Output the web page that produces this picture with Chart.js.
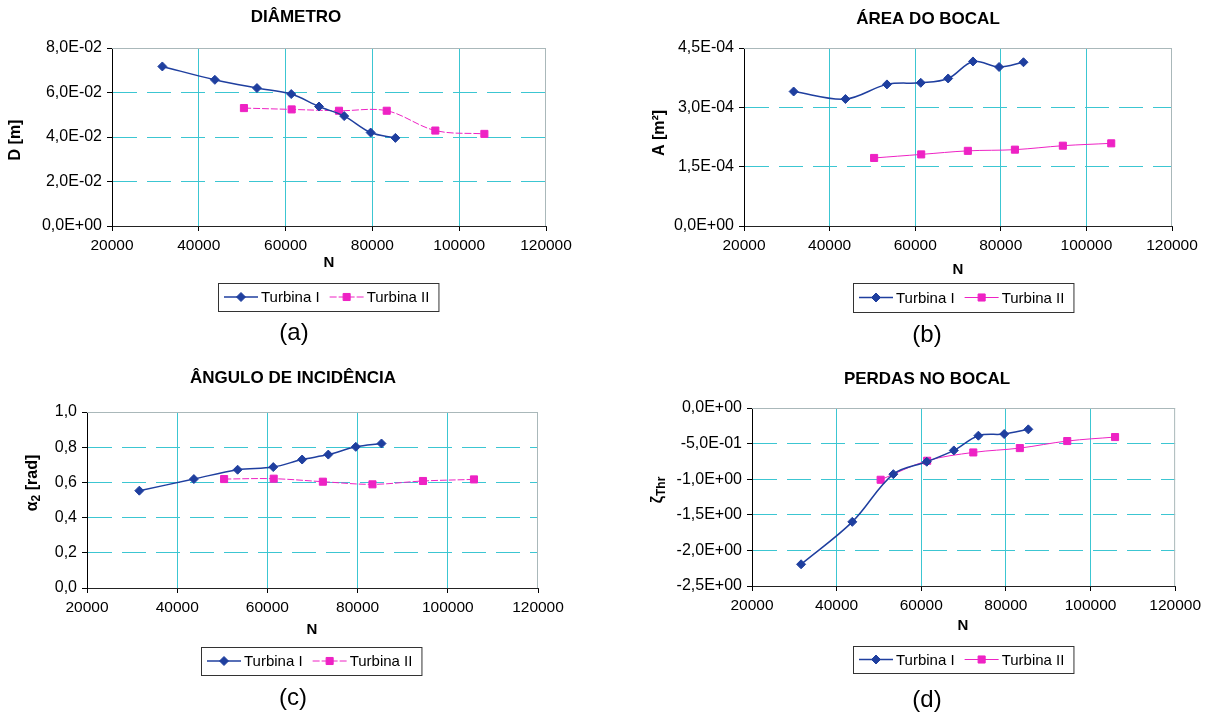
<!DOCTYPE html>
<html>
<head>
<meta charset="utf-8">
<script src="https://cdn.jsdelivr.net/npm/chart.js@4.4.1/dist/chart.umd.min.js"></script>
<style>
  html, body { margin: 0; padding: 0; background: #fff; }
  #page { position: relative; width: 1206px; height: 720px; overflow: hidden; background: #fff; }
  #page canvas { position: absolute; }
</style>
</head>
<body>
<div id="page">
  <canvas id="chart-a" width="603" height="360" style="left:0;top:0"></canvas>
  <canvas id="chart-b" width="603" height="360" style="left:603px;top:0"></canvas>
  <canvas id="chart-c" width="603" height="360" style="left:0;top:360px"></canvas>
  <canvas id="chart-d" width="603" height="360" style="left:603px;top:360px"></canvas>
</div>
<script>
// rotation speed N of each operating point
const nTurbI = [31600, 43700, 53400, 61300, 67700, 73500, 79600, 85300];
const nTurbII = [50400, 61400, 72300, 83300, 94500, 105800];

// nozzle diameter D [m]
const diamI = [0.0717, 0.0657, 0.0620, 0.0593, 0.0537, 0.0494, 0.0420, 0.0396];
const diamII = [0.0530, 0.0524, 0.0518, 0.0518, 0.0429, 0.0414];

// nozzle area A [m2]
const areaI = [3.40e-4, 3.21e-4, 3.58e-4, 3.62e-4, 3.73e-4, 4.16e-4, 4.02e-4, 4.14e-4];
const areaII = [1.72e-4, 1.81e-4, 1.90e-4, 1.93e-4, 2.03e-4, 2.09e-4];

// incidence angle alpha2 [rad]
const angI = [0.553, 0.619, 0.672, 0.687, 0.730, 0.758, 0.802, 0.821];
const angII = [0.619, 0.621, 0.604, 0.589, 0.608, 0.617];

// nozzle losses zeta_Thr
const lossI = [-2.195, -1.599, -0.929, -0.755, -0.596, -0.389, -0.366, -0.300];
const lossII = [-1.008, -0.741, -0.624, -0.563, -0.464, -0.408];

// axis ticks
const nTicks = [20000, 40000, 60000, 80000, 100000, 120000];
const diamTicks = [0, 0.02, 0.04, 0.06, 0.08];
const areaTicks = [0, 1.5e-4, 3.0e-4, 4.5e-4];
const angTicks = [0, 0.2, 0.4, 0.6, 0.8, 1.0];
const lossTicks = [-2.5, -2.0, -1.5, -1.0, -0.5, 0];

const FONT = '"Liberation Sans", Arial, sans-serif';
const BLUE = '#1f3f9f';
const PINK = '#ee22c4';
const CYAN = '#3cc6d2';
const W = 603, H = 360;

// 8,0E-02 style labels
const sciLabel = v => {
  const [m, e] = Number(v).toExponential(1).split('e');
  const exp = parseInt(e, 10);
  return m.replace('.', ',') + 'E' + (exp < 0 ? '-' : '+') + String(Math.abs(exp)).padStart(2, '0');
};
const decLabel = v => Number(v).toFixed(1).replace('.', ',');

// frame, titles, boxed legend and caption
const decor = {
  id: 'decor',
  beforeDatasetsDraw(chart) {
    const ctx = chart.ctx;
    const { left, right, top, bottom } = chart.chartArea;
    ctx.save();
    ctx.strokeStyle = '#aab8ba';
    ctx.lineWidth = 1;
    ctx.beginPath();
    ctx.moveTo(left, top + 0.5);
    ctx.lineTo(right, top + 0.5);
    ctx.moveTo(right - 0.5, top);
    ctx.lineTo(right - 0.5, bottom);
    ctx.stroke();
    ctx.restore();
  },
  afterDraw(chart, args, opts) {
    const ctx = chart.ctx;
    ctx.save();
    ctx.fillStyle = '#000';
    ctx.textAlign = 'center';
    ctx.textBaseline = 'middle';

    ctx.font = `bold 17px ${FONT}`;
    ctx.fillText(opts.title, opts.titleAt[0], opts.titleAt[1]);

    ctx.font = `bold 15px ${FONT}`;
    ctx.fillText('N', opts.nAt[0], opts.nAt[1]);

    ctx.font = `24px ${FONT}`;
    ctx.fillText(opts.caption, opts.captionAt[0], opts.captionAt[1]);

    // rotated y title, parts may be subscripted
    const big = `bold 16px ${FONT}`, small = `bold 12px ${FONT}`;
    let total = 0;
    opts.yTitle.forEach(([t, sub]) => { ctx.font = sub ? small : big; total += ctx.measureText(t).width; });
    ctx.save();
    ctx.translate(opts.yTitleAt[0], opts.yTitleAt[1]);
    ctx.rotate(-Math.PI / 2);
    ctx.textAlign = 'left';
    let tx = -total / 2;
    opts.yTitle.forEach(([t, sub]) => {
      ctx.font = sub ? small : big;
      ctx.fillText(t, tx, sub ? 4 : 0);
      tx += ctx.measureText(t).width;
    });
    ctx.restore();

    // legend box
    const lg = opts.legend;
    const cy = lg.y + lg.h / 2;
    ctx.font = `15px ${FONT}`;
    ctx.textAlign = 'left';
    let x = lg.x + 6;
    const items = chart.data.datasets.map(ds => {
      const item = { ds, x };
      x += 37 + ctx.measureText(ds.label).width + 10;
      return item;
    });
    const boxW = x - 10 + 9 - lg.x;
    ctx.strokeStyle = '#333';
    ctx.lineWidth = 1;
    ctx.strokeRect(lg.x + 0.5, lg.y + 0.5, boxW, lg.h);
    items.forEach(({ ds, x }) => {
      ctx.strokeStyle = ds.borderColor;
      ctx.lineWidth = ds.borderWidth;
      ctx.setLineDash(ds.borderDash || []);
      ctx.beginPath();
      ctx.moveTo(x, cy);
      ctx.lineTo(x + 34, cy);
      ctx.stroke();
      ctx.setLineDash([]);
      ctx.fillStyle = ds.backgroundColor;
      ctx.strokeStyle = ds.borderColor;
      ctx.lineWidth = 1;
      Chart.helpers.drawPoint(ctx, { pointStyle: ds.pointStyle, radius: ds.pointRadius, rotation: 0, borderWidth: 1 }, x + 17, cy);
      ctx.fillStyle = '#000';
      ctx.fillText(ds.label, x + 37, cy + 1);
    });
    ctx.restore();
  }
};

function makeChart(id, ysI, ysII, yTicks, yFmt, deco, dashII) {
  const area = deco.area;
  new Chart(document.getElementById(id), {
    type: 'line',
    data: {
      datasets: [
        {
          label: 'Turbina I',
          data: nTurbI.map((n, i) => ({ x: n, y: ysI[i] })),
          borderColor: BLUE,
          backgroundColor: BLUE,
          borderWidth: 1.5,
          pointStyle: 'rectRot',
          pointRadius: 4.5,
          pointBorderWidth: 1,
          tension: 0.35,
        },
        {
          label: 'Turbina II',
          data: nTurbII.map((n, i) => ({ x: n, y: ysII[i] })),
          borderColor: PINK,
          backgroundColor: PINK,
          borderWidth: 1,
          borderDash: dashII,
          pointStyle: 'rect',
          pointRadius: 5,
          pointBorderWidth: 1,
          tension: 0.35,
        },
      ]
    },
    options: {
      responsive: false,
      animation: false,
      events: [],
      layout: {
        padding: { left: 2, right: W - area.right, top: area.top, bottom: H - area.bottom - 30 }
      },
      plugins: {
        legend: { display: false },
        tooltip: { enabled: false },
        decor: deco,
      },
      scales: {
        x: {
          type: 'linear',
          min: nTicks[0],
          max: nTicks[nTicks.length - 1],
          afterBuildTicks: s => { s.ticks = nTicks.map(v => ({ value: v })); },
          afterFit: s => { s.height = 30; },
          ticks: {
            callback: v => String(v),
            color: '#000',
            font: { size: 15.5, family: FONT },
            padding: 5,
            maxRotation: 0,
            autoSkip: false,
          },
          grid: {
            color: c => (c.tick && (c.tick.value === nTicks[0] || c.tick.value === nTicks[nTicks.length - 1])) ? 'rgba(0,0,0,0)' : CYAN,
            tickColor: '#000',
            tickLength: 5,
          },
          border: { color: '#222', width: 1 },
        },
        y: {
          min: yTicks[0],
          max: yTicks[yTicks.length - 1],
          afterBuildTicks: s => { s.ticks = yTicks.map(v => ({ value: v })); },
          afterFit: s => { s.width = area.left - 2; },
          ticks: {
            callback: yFmt,
            color: '#000',
            font: { size: 16, family: FONT },
            padding: 5,
          },
          grid: {
            color: c => (c.tick && (c.tick.value === yTicks[0] || c.tick.value === yTicks[yTicks.length - 1])) ? 'rgba(0,0,0,0)' : CYAN,
            tickColor: '#000',
            tickLength: 5,
          },
          border: { color: '#000', width: 1, dash: [24, 10] },
        }
      }
    },
    plugins: [decor]
  });
}

makeChart('chart-a', diamI, diamII, diamTicks, sciLabel, {
  area: { left: 112, right: 546, top: 48, bottom: 226 },
  title: 'DIÂMETRO', titleAt: [296, 17],
  yTitle: [['D [m]']], yTitleAt: [16, 140],
  nAt: [329, 263],
  legend: { x: 218, y: 283, h: 28 },
  caption: '(a)', captionAt: [294, 333],
}, [7, 2]);

makeChart('chart-b', areaI, areaII, areaTicks, sciLabel, {
  area: { left: 141, right: 569, top: 48, bottom: 226 },
  title: 'ÁREA DO BOCAL', titleAt: [325, 19],
  yTitle: [['A [m²]']], yTitleAt: [57, 133],
  nAt: [355, 270],
  legend: { x: 250, y: 283, h: 29 },
  caption: '(b)', captionAt: [324, 335],
}, []);

makeChart('chart-c', angI, angII, angTicks, decLabel, {
  area: { left: 87, right: 538, top: 52, bottom: 228 },
  title: 'ÂNGULO DE INCIDÊNCIA', titleAt: [293, 18],
  yTitle: [['α'], ['2', true], [' [rad]']], yTitleAt: [33, 123],
  nAt: [312, 270],
  legend: { x: 201, y: 287, h: 28 },
  caption: '(c)', captionAt: [293, 338],
}, [7, 2]);

makeChart('chart-d', lossI, lossII, lossTicks, sciLabel, {
  area: { left: 149, right: 573, top: 48, bottom: 226 },
  title: 'PERDAS NO BOCAL', titleAt: [324, 19],
  yTitle: [['ζ'], ['Thr', true]], yTitleAt: [55, 130],
  nAt: [360, 266],
  legend: { x: 250, y: 286, h: 27 },
  caption: '(d)', captionAt: [324, 340],
}, []);
</script>
</body>
</html>
